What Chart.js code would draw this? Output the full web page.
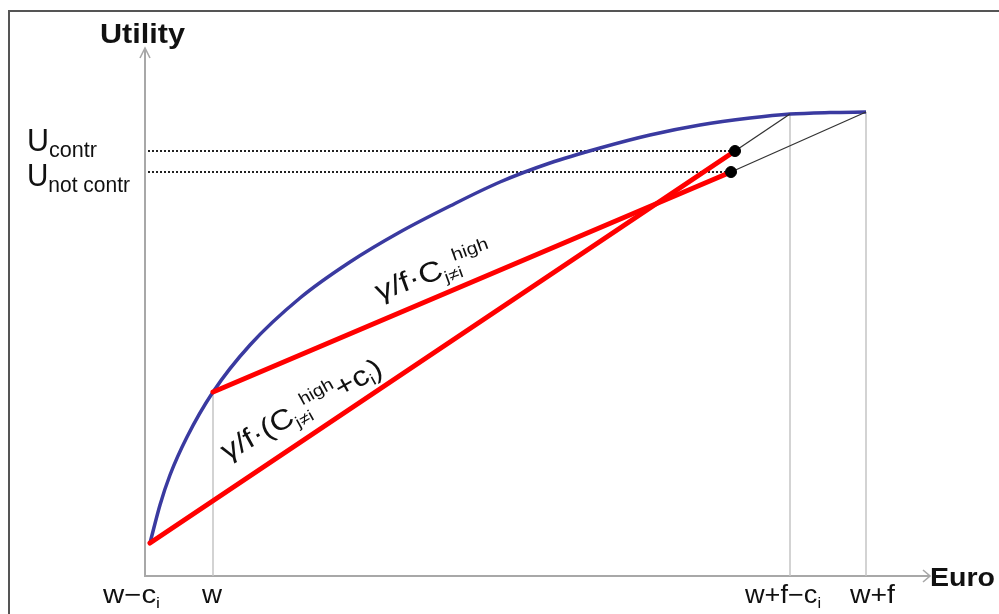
<!DOCTYPE html>
<html>
<head>
<meta charset="utf-8">
<script src="https://cdn.jsdelivr.net/npm/chart.js@4.4.1/dist/chart.umd.min.js"></script>
<style>
html,body{margin:0;padding:0;background:#fff;}
#wrap{width:999px;height:614px;}
</style>
</head>
<body>
<div id="wrap"><canvas id="c" width="999" height="614"></canvas></div>
<script>
// ---- data (x: euro axis units, y: utility units) ----
const curveX = [0.5, 1.5, 2.5, 4.2, 6.8, 10.5, 15.5, 20.5, 25.5, 30.5, 35.5, 40.5, 45.5, 50.5, 55.5, 60.5, 64.5, 68.5, 72.1];
const curveY = [3.3, 7.1, 10.1, 13.9, 18.4, 23.1, 27.8, 31.4, 34.4, 37.0, 39.4, 41.3, 42.8, 44.1, 45.1, 45.8, 46.2, 46.35, 46.4];
const lineContribX = [0.5, 59.0];
const lineContribY = [3.3, 42.5];
const lineNotContribX = [6.8, 58.6];
const lineNotContribY = [18.4, 40.4];
const connContribX = [59.0, 64.5];
const connContribY = [42.5, 46.2];
const connNotContribX = [58.6, 72.1];
const connNotContribY = [40.4, 46.4];
const uLevels = [42.5, 40.4];          // U_contr, U_not contr
const uLevelEndX = [59.0, 58.6];
const tickValues = [0.5, 6.8, 64.5, 72.1];
const tickTops = [3.3, 18.4, 46.2, 46.4];
const tickLabels = ['w−c', 'w', 'w+f−c', 'w+f'];
const tickSubs = ['i', '', 'i', ''];
const xTitle = 'Euro';
const yTitle = 'Utility';

const pts = (xs, ys) => xs.map((x, i) => ({x, y: ys[i]}));

const FONT = '"Liberation Sans", Arial, sans-serif';

function drawRuns(ctx, x, y, angle, runs, targetW, color) {
  ctx.save();
  let natural = 0;
  runs.forEach(r => {
    ctx.font = (r.bold ? 'bold ' : '') + r.size + 'px ' + FONT;
    r.w = ctx.measureText(r.t).width;
    natural += r.w * (r.adv === undefined ? 1 : r.adv);
  });
  const s = targetW ? targetW / natural : 1;
  ctx.translate(x, y);
  ctx.rotate(angle);
  ctx.scale(s, 1);
  ctx.fillStyle = color || '#111';
  ctx.textBaseline = 'alphabetic';
  let cx = 0;
  runs.forEach(r => {
    ctx.font = (r.bold ? 'bold ' : '') + r.size + 'px ' + FONT;
    ctx.fillText(r.t, cx, r.dy || 0);
    cx += r.w * (r.adv === undefined ? 1 : r.adv);
  });
  ctx.restore();
}

const decor = {
  id: 'decor',
  beforeDatasetsDraw(chart) {
    const ctx = chart.ctx;
    const xs = chart.scales.x, ys = chart.scales.y;
    const x0 = xs.getPixelForValue(0), y0 = ys.getPixelForValue(0);
    const ca = chart.chartArea;
    ctx.save();
    ctx.strokeStyle = '#555';
    ctx.lineWidth = 2;
    ctx.beginPath();
    ctx.moveTo(9, 614); ctx.lineTo(9, 11); ctx.lineTo(999, 11);
    ctx.stroke();
    ctx.strokeStyle = '#a8a8a8';
    ctx.lineWidth = 2;
    ctx.beginPath();
    ctx.moveTo(x0, y0 + 1); ctx.lineTo(x0, ca.top);
    ctx.moveTo(x0 - 1, y0); ctx.lineTo(ca.right, y0);
    ctx.stroke();
    ctx.lineWidth = 1.6;
    ctx.beginPath();
    ctx.moveTo(x0 - 5, ca.top + 10); ctx.lineTo(x0, ca.top); ctx.lineTo(x0 + 5, ca.top + 10);
    ctx.moveTo(ca.right - 7, y0 - 6); ctx.lineTo(ca.right, y0); ctx.lineTo(ca.right - 7, y0 + 6);
    ctx.stroke();
    ctx.restore();
  },
  afterDraw(chart) {
    const ctx = chart.ctx;
    const xs = chart.scales.x, ys = chart.scales.y;
    const ca = chart.chartArea;
    const y0 = ys.getPixelForValue(0);
    drawRuns(ctx, 100, ca.top - 5, 0, [{t: yTitle, size: 27, bold: true}], 85);
    drawRuns(ctx, ca.right, y0 + 10, 0, [{t: xTitle, size: 26, bold: true}], 65);
    const yc = ys.getPixelForValue(uLevels[0]);
    const yn = ys.getPixelForValue(uLevels[1]);
    drawRuns(ctx, 27, yc, 0, [{t: 'U', size: 31}, {t: 'contr', size: 22, dy: 6}], 70);
    drawRuns(ctx, 27, yn + 14, 0, [{t: 'U', size: 31}, {t: 'not contr', size: 22, dy: 6}], 103);
    const offs = [-47, -11, -45, -16];
    const widths = [57, 20, 76, 45];
    tickLabels.forEach((lab, i) => {
      const px = xs.getPixelForValue(tickValues[i]);
      const runs = [{t: lab, size: 25}];
      if (tickSubs[i]) runs.push({t: tickSubs[i], size: 15, dy: 5});
      drawRuns(ctx, px + offs[i], y0 + 27, 0, runs, widths[i]);
    });
    const p1 = xs.getPixelForValue(lineNotContribX[0]);
    drawRuns(ctx, p1 + 166, ys.getPixelForValue(27.5), -20 * Math.PI / 180, [
      {t: 'γ/f·C', size: 28},
      {t: 'j≠i', size: 16, dy: 6, adv: 0.75},
      {t: 'high', size: 17, dy: -12}
    ], 122);
    drawRuns(ctx, xs.getPixelForValue(lineContribX[0]) + 77, ys.getPixelForValue(11.5), -29 * Math.PI / 180, [
      {t: 'γ/f·(C', size: 28},
      {t: 'j≠i', size: 16, dy: 6, adv: 0.75},
      {t: 'high', size: 17, dy: -12},
      {t: '+c', size: 28},
      {t: 'i', size: 16, dy: 5},
      {t: ')', size: 28}
    ], 180);
  }
};

const datasets = [
  {data: pts([lineContribX[1], lineNotContribX[1]], [lineContribY[1], lineNotContribY[1]]),
   showLine: false, pointRadius: 5.5, pointBackgroundColor: '#000', pointBorderColor: '#000', order: 0},
  {data: pts(lineContribX, lineContribY), showLine: true, borderColor: '#ff0000', borderWidth: 5, pointRadius: 0, order: 1, borderCapStyle: 'round'},
  {data: pts(lineNotContribX, lineNotContribY), showLine: true, borderColor: '#ff0000', borderWidth: 5, pointRadius: 0, order: 1, borderCapStyle: 'round'},
  {data: pts(connContribX, connContribY), showLine: true, borderColor: '#333', borderWidth: 1.3, pointRadius: 0, order: 2},
  {data: pts(connNotContribX, connNotContribY), showLine: true, borderColor: '#333', borderWidth: 1.3, pointRadius: 0, order: 2},
  {data: pts(curveX, curveY), showLine: true, borderColor: '#3a3aa0', borderWidth: 3.5, pointRadius: 0,
   cubicInterpolationMode: 'monotone', order: 3},
  {data: [{x: 0.3, y: uLevels[0]}, {x: uLevelEndX[0], y: uLevels[0]}], showLine: true, borderColor: '#222',
   borderWidth: 2, borderDash: [2, 2], pointRadius: 0, order: 4},
  {data: [{x: 0.3, y: uLevels[1]}, {x: uLevelEndX[1], y: uLevels[1]}], showLine: true, borderColor: '#222',
   borderWidth: 2, borderDash: [2, 2], pointRadius: 0, order: 4}
];
tickValues.slice(1).forEach((v, i) => {
  datasets.push({data: [{x: v, y: 0}, {x: v, y: tickTops[i + 1]}], showLine: true, borderColor: '#c4c4c4',
    borderWidth: 1.5, pointRadius: 0, order: 5});
});

new Chart(document.getElementById('c'), {
  type: 'scatter',
  data: {datasets},
  options: {
    responsive: false,
    animation: false,
    devicePixelRatio: 1,
    layout: {padding: {left: 145, right: 69, top: 48, bottom: 38}},
    plugins: {legend: {display: false}, tooltip: {enabled: false}},
    elements: {line: {tension: 0}},
    scales: {
      x: {type: 'linear', min: 0, max: 78.5, display: false},
      y: {type: 'linear', min: 0, max: 52.8, display: false}
    }
  },
  plugins: [decor]
});
</script>
</body>
</html>
